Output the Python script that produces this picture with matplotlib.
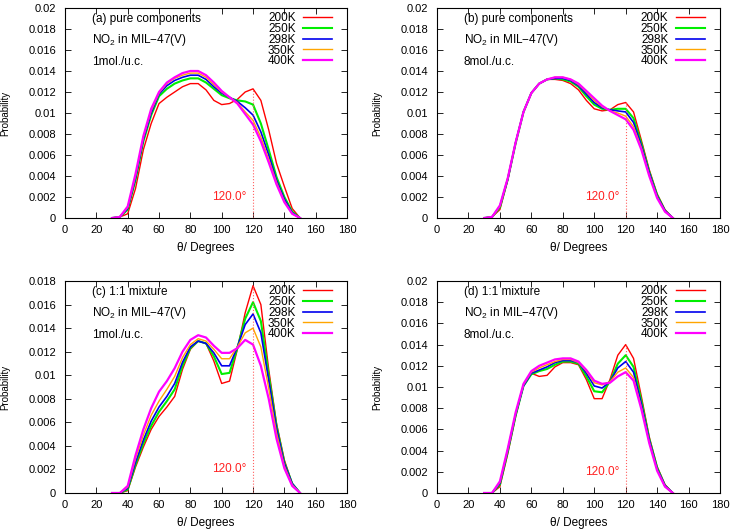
import matplotlib
matplotlib.use("Agg")
import matplotlib.pyplot as plt
from matplotlib.ticker import FuncFormatter, MultipleLocator

plt.rcParams['font.family'] = ['Liberation Sans', 'DejaVu Sans']
plt.rcParams['mathtext.default'] = 'regular'

# angle grid (degrees)
theta = [30, 35, 40, 45, 50, 55, 60, 65, 70, 75, 80, 85, 90,
         95, 100, 105, 110, 115, 120, 125, 130, 135, 140, 145, 150]

temps = ['200K', '250K', '298K', '350K', '400K']

# (a) pure components, 1 mol./u.c.
a_200 = [0, 0.0001, 0.0004, 0.0028, 0.0065, 0.0090, 0.0109, 0.0115, 0.0120, 0.0125, 0.0128, 0.0128, 0.0122,
         0.0112, 0.0108, 0.0109, 0.0113, 0.0120, 0.0123, 0.0112, 0.0084, 0.0052, 0.0030, 0.0009, 0]
a_250 = [0, 0.0001, 0.0008, 0.0036, 0.0073, 0.0098, 0.0116, 0.0123, 0.0128, 0.0131, 0.0133, 0.0133, 0.0129,
         0.0123, 0.0117, 0.0114, 0.0112, 0.0111, 0.0108, 0.0090, 0.0065, 0.0039, 0.0020, 0.0006, 0]
a_298 = [0, 0.0001, 0.0009, 0.0038, 0.0075, 0.0100, 0.0118, 0.0126, 0.0131, 0.0134, 0.0136, 0.0136, 0.0132,
         0.0125, 0.0119, 0.0115, 0.0111, 0.0105, 0.0098, 0.0082, 0.0060, 0.0036, 0.0018, 0.0005, 0]
a_350 = [0, 0.0001, 0.0010, 0.0040, 0.0077, 0.0102, 0.0119, 0.0128, 0.0133, 0.0136, 0.0138, 0.0138, 0.0134,
         0.0127, 0.0120, 0.0115, 0.0110, 0.0101, 0.0093, 0.0077, 0.0056, 0.0034, 0.0016, 0.0004, 0]
a_400 = [0, 0.0001, 0.0011, 0.0042, 0.0078, 0.0104, 0.0120, 0.0129, 0.0134, 0.0138, 0.0140, 0.0140, 0.0136,
         0.0129, 0.0121, 0.0115, 0.0109, 0.0099, 0.0089, 0.0073, 0.0053, 0.0032, 0.0015, 0.0004, 0]

# (b) pure components, 8 mol./u.c.
b_200 = [0, 0.0001, 0.0008, 0.0036, 0.0071, 0.0101, 0.0119, 0.0128, 0.0132, 0.0132, 0.0131, 0.0128, 0.0122,
         0.0112, 0.0104, 0.0102, 0.0103, 0.0108, 0.0110, 0.0101, 0.0074, 0.0046, 0.0023, 0.0008, 0]
b_250 = [0, 0.0001, 0.0010, 0.0037, 0.0071, 0.0101, 0.0119, 0.0128, 0.0132, 0.0133, 0.0132, 0.0130, 0.0125,
         0.0116, 0.0108, 0.0104, 0.0103, 0.0104, 0.0104, 0.0095, 0.0071, 0.0044, 0.0022, 0.0007, 0]
b_298 = [0, 0.0001, 0.0011, 0.0037, 0.0072, 0.0101, 0.0119, 0.0128, 0.0132, 0.0133, 0.0133, 0.0131, 0.0126,
         0.0118, 0.0110, 0.0105, 0.0103, 0.0102, 0.0101, 0.0091, 0.0069, 0.0043, 0.0021, 0.0007, 0]
b_350 = [0, 0.0001, 0.0011, 0.0038, 0.0072, 0.0101, 0.0119, 0.0128, 0.0132, 0.0134, 0.0134, 0.0132, 0.0127,
         0.0120, 0.0112, 0.0106, 0.0102, 0.0100, 0.0097, 0.0087, 0.0067, 0.0041, 0.0020, 0.0006, 0]
b_400 = [0, 0.0001, 0.0012, 0.0038, 0.0072, 0.0101, 0.0119, 0.0128, 0.0132, 0.0134, 0.0134, 0.0132, 0.0128,
         0.0121, 0.0114, 0.0107, 0.0102, 0.0098, 0.0094, 0.0084, 0.0065, 0.0040, 0.0019, 0.0006, 0]

# (c) 1:1 mixture, 1 mol./u.c.
c_200 = [0, 0.0000, 0.0002, 0.0022, 0.0039, 0.0054, 0.0065, 0.0073, 0.0082, 0.0105, 0.0122, 0.0129, 0.0127,
         0.0112, 0.0093, 0.0095, 0.0122, 0.0153, 0.0176, 0.0160, 0.0105, 0.0059, 0.0028, 0.0008, 0]
c_250 = [0, 0.0000, 0.0003, 0.0024, 0.0042, 0.0057, 0.0069, 0.0078, 0.0088, 0.0108, 0.0123, 0.0129, 0.0127,
         0.0116, 0.0101, 0.0102, 0.0123, 0.0148, 0.0162, 0.0146, 0.0100, 0.0057, 0.0026, 0.0008, 0]
c_298 = [0, 0.0000, 0.0004, 0.0026, 0.0045, 0.0061, 0.0073, 0.0082, 0.0093, 0.0111, 0.0124, 0.0129, 0.0127,
         0.0119, 0.0108, 0.0108, 0.0124, 0.0143, 0.0152, 0.0136, 0.0096, 0.0055, 0.0025, 0.0008, 0]
c_350 = [0, 0.0000, 0.0005, 0.0029, 0.0049, 0.0066, 0.0078, 0.0088, 0.0099, 0.0115, 0.0126, 0.0131, 0.0129,
         0.0122, 0.0114, 0.0114, 0.0124, 0.0136, 0.0140, 0.0124, 0.0089, 0.0051, 0.0023, 0.0007, 0]
c_400 = [0, 0.0000, 0.0006, 0.0032, 0.0054, 0.0072, 0.0086, 0.0095, 0.0106, 0.0120, 0.0130, 0.0134, 0.0132,
         0.0125, 0.0119, 0.0119, 0.0123, 0.0130, 0.0126, 0.0108, 0.0080, 0.0046, 0.0021, 0.0006, 0]

# (d) 1:1 mixture, 8 mol./u.c.
d_200 = [0, 0.0000, 0.0006, 0.0037, 0.0072, 0.0102, 0.0113, 0.0110, 0.0111, 0.0119, 0.0123, 0.0123, 0.0121,
         0.0107, 0.0089, 0.0089, 0.0107, 0.0130, 0.0140, 0.0127, 0.0091, 0.0053, 0.0025, 0.0008, 0]
d_250 = [0, 0.0000, 0.0008, 0.0039, 0.0073, 0.0101, 0.0112, 0.0115, 0.0117, 0.0121, 0.0124, 0.0124, 0.0122,
         0.0110, 0.0096, 0.0095, 0.0105, 0.0122, 0.0130, 0.0119, 0.0087, 0.0051, 0.0024, 0.0007, 0]
d_298 = [0, 0.0000, 0.0009, 0.0040, 0.0074, 0.0101, 0.0113, 0.0116, 0.0119, 0.0123, 0.0125, 0.0125, 0.0123,
         0.0113, 0.0101, 0.0099, 0.0105, 0.0118, 0.0124, 0.0114, 0.0084, 0.0050, 0.0023, 0.0007, 0]
d_350 = [0, 0.0000, 0.0010, 0.0041, 0.0075, 0.0102, 0.0114, 0.0118, 0.0121, 0.0124, 0.0126, 0.0126, 0.0123,
         0.0115, 0.0104, 0.0102, 0.0105, 0.0114, 0.0118, 0.0109, 0.0081, 0.0048, 0.0022, 0.0006, 0]
d_400 = [0, 0.0000, 0.0011, 0.0042, 0.0076, 0.0103, 0.0115, 0.0120, 0.0123, 0.0126, 0.0127, 0.0127, 0.0124,
         0.0116, 0.0106, 0.0103, 0.0104, 0.0110, 0.0114, 0.0106, 0.0079, 0.0047, 0.0021, 0.0006, 0]

panels = [
    ('(a) pure components', '1mol./u.c.', [a_200, a_250, a_298, a_350, a_400], 0.02),
    ('(b) pure components', '8mol./u.c.', [b_200, b_250, b_298, b_350, b_400], 0.02),
    ('(c) 1:1 mixture', '1mol./u.c.', [c_200, c_250, c_298, c_350, c_400], 0.018),
    ('(d) 1:1 mixture', '8mol./u.c.', [d_200, d_250, d_298, d_350, d_400], 0.02),
]

colors = ['#ff0000', '#00ee00', '#0000ee', '#ffa500', '#ff00ff']
widths = [1.0, 1.5, 1.2, 1.0, 1.6]

# axes boxes in figure fractions: left, bottom, width, height
boxes = [
    [0.0888, 0.5887, 0.3853, 0.3962],
    [0.5970, 0.5887, 0.3866, 0.3962],
    [0.0888, 0.0698, 0.3853, 0.4000],
    [0.5970, 0.0698, 0.3866, 0.4000],
]

fig = plt.figure(figsize=(7.32, 5.30), dpi=100)

for (title, load, series, ytop), box in zip(panels, boxes):
    ax = fig.add_axes(box)
    for vals, lab, col, lw in zip(series, temps, colors, widths):
        ax.plot(theta, vals, color=col, lw=lw, label=lab)

    # dotted marker at 120 degrees up to the 200K curve
    i120 = theta.index(120)
    ax.plot([120, 120], [0, series[0][i120]], color='#ff6060', lw=0.8, ls=':')
    ax.text(116, 0.002, '120.0°', color='#ff2020', fontsize=8.5, ha='right', va='center')

    ax.set_xlim(0, 180)
    ax.set_ylim(0, ytop)
    ax.xaxis.set_major_locator(MultipleLocator(20))
    ax.yaxis.set_major_locator(MultipleLocator(0.002))
    ax.yaxis.set_major_formatter(FuncFormatter(lambda v, p: '%g' % round(v, 4)))
    ax.tick_params(direction='in', top=True, right=True, length=4, width=0.6, labelsize=8)
    ax.tick_params(axis='y', pad=6.5)
    ax.tick_params(axis='x', pad=5)
    for s in ax.spines.values():
        s.set_linewidth(0.8)

    ax.set_xlabel('θ/ Degrees', fontsize=8.5, labelpad=5)
    ax.set_ylabel('Probability', fontsize=7, labelpad=13)

    ax.text(0.095, 0.95, title, transform=ax.transAxes, fontsize=8.5, va='center')
    ax.text(0.095, 0.85, 'NO$_2$ in MIL\u221247(V)', transform=ax.transAxes, fontsize=8.5, va='center')
    ax.text(0.095, 0.745, load, transform=ax.transAxes, fontsize=8.5, va='center')

    ax.legend(loc='upper right', bbox_to_anchor=(0.962, 1.0), frameon=False, markerfirst=False,
              fontsize=8.5, handlelength=2.5, handletextpad=0.6, labelspacing=-0.1,
              borderaxespad=0.15, borderpad=0.2)

fig.savefig('out.png', dpi=100)
